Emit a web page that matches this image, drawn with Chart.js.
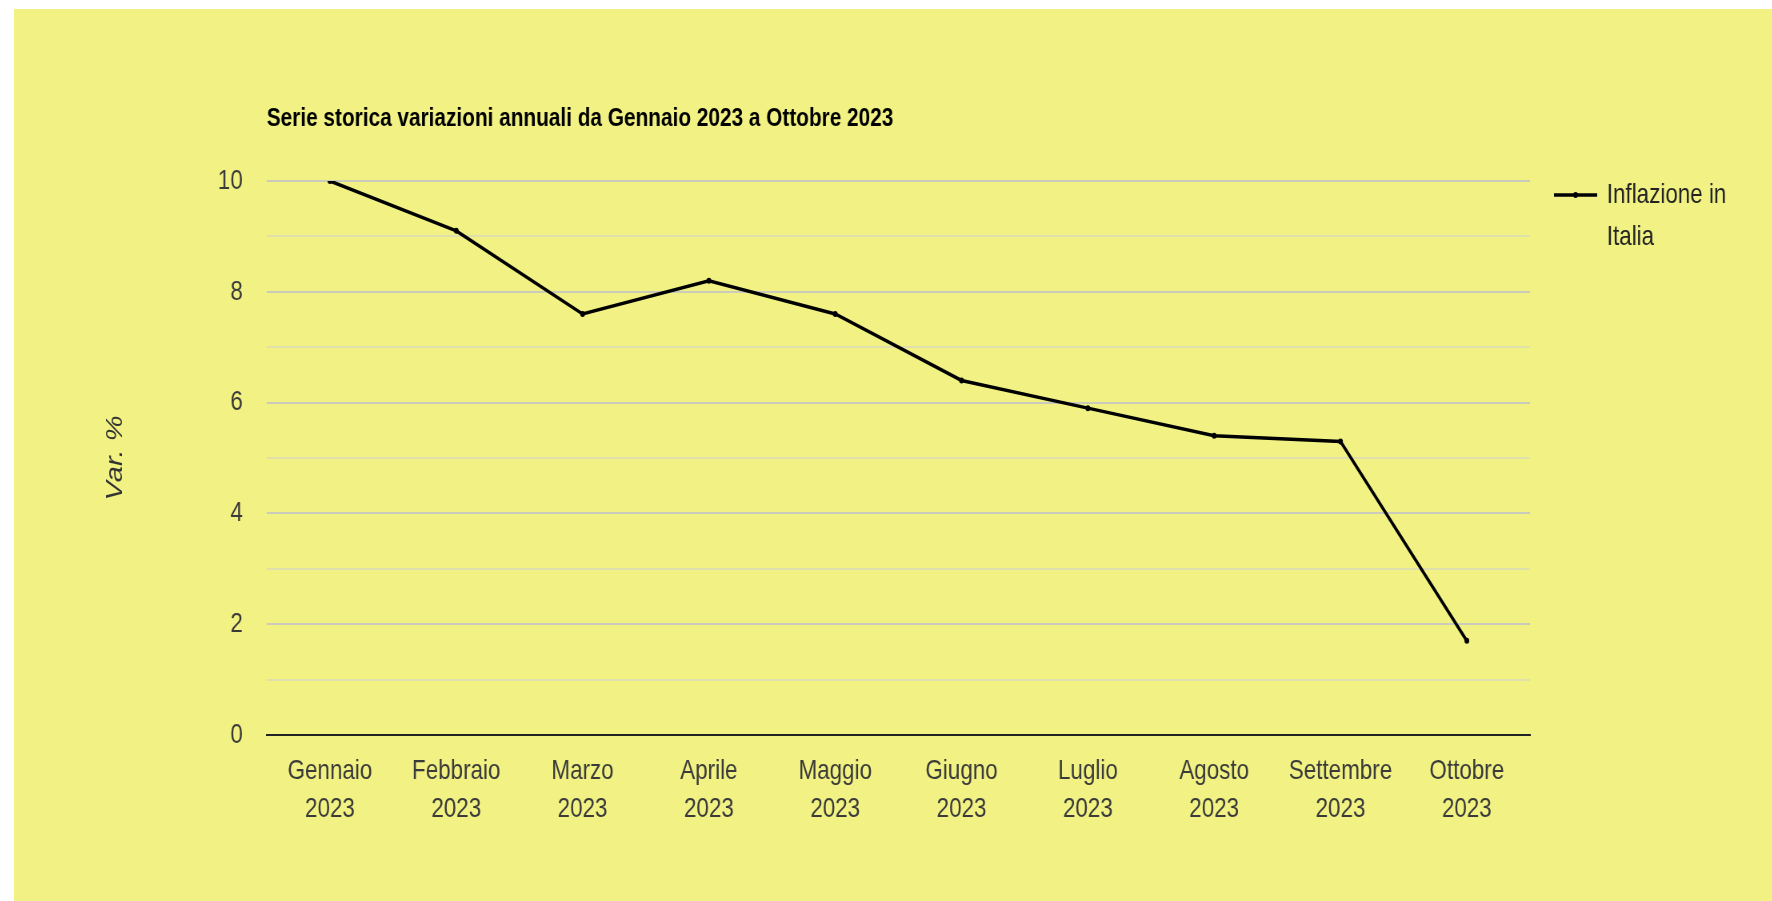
<!DOCTYPE html>
<html lang="it">
<head>
<meta charset="utf-8">
<title>Inflazione in Italia 2023</title>
<script src="https://cdn.jsdelivr.net/npm/chart.js@4.4.1/dist/chart.umd.min.js"></script>
<style>
    html, body { margin: 0; padding: 0; background: #ffffff; overflow: hidden; }
    .box {
        position: absolute;
        left: 14px;
        top: 9px;
        width: 1758px;
        height: 892px;
        background: #f1f283;
        overflow: hidden;
    }
    /* the original text is a condensed face, so squeeze the whole canvas */
    #chart {
        transform: scaleX(0.8);
        transform-origin: 0 0;
    }
</style>
</head>
<body>
<div class="box"><canvas id="chart" width="2198" height="892"></canvas></div>
<script>
const months = ['Gennaio', 'Febbraio', 'Marzo', 'Aprile', 'Maggio', 'Giugno', 'Luglio', 'Agosto', 'Settembre', 'Ottobre'];
const years = ['2023', '2023', '2023', '2023', '2023', '2023', '2023', '2023', '2023', '2023'];
const inflation = [10.0, 9.1, 7.6, 8.2, 7.6, 6.4, 5.9, 5.4, 5.3, 1.7];
const seriesLabel = 'Inflazione in Italia';
const chartTitle = 'Serie storica variazioni annuali da Gennaio 2023 a Ottobre 2023';
const yTitle = 'Var. %';

const FONT = "'Liberation Sans', Arial, sans-serif";

// title and legend sit against the plot area, so draw them by hand
const sidePlugin = {
    id: 'side',
    afterDraw(chart) {
        const { ctx, chartArea } = chart;
        const ds = chart.data.datasets[0];
        ctx.save();

        ctx.font = 'bold 26px ' + FONT;
        ctx.fillStyle = '#000000';
        ctx.textBaseline = 'middle';
        ctx.textAlign = 'left';
        ctx.fillText(chartTitle, chartArea.left, 110);

        const lx = chartArea.right + 30;
        const ly = 186;
        ctx.strokeStyle = ds.borderColor;
        ctx.lineWidth = 3.5;
        ctx.beginPath();
        ctx.moveTo(lx, ly);
        ctx.lineTo(lx + 54, ly);
        ctx.stroke();
        ctx.fillStyle = ds.borderColor;
        ctx.beginPath();
        ctx.arc(lx + 27, ly, 3, 0, Math.PI * 2);
        ctx.fill();

        ctx.font = '28px ' + FONT;
        ctx.fillStyle = '#222222';
        const tx = lx + 66;
        const maxW = chart.width - tx - 10;
        const lines = [];
        let cur = '';
        ds.label.split(' ').forEach((w) => {
            const test = cur ? cur + ' ' + w : w;
            if (cur && ctx.measureText(test).width > maxW) {
                lines.push(cur);
                cur = w;
            } else cur = test;
        });
        lines.push(cur);
        lines.forEach((t, i) => ctx.fillText(t, tx, ly + i * 42));
        ctx.restore();
    },
};

const ctx = document.getElementById('chart').getContext('2d');
new Chart(ctx, {
    type: 'line',
    data: {
        labels: months.map((m, i) => [m, years[i]]),
        datasets: [{
            label: seriesLabel,
            data: inflation,
            borderColor: '#000000',
            backgroundColor: '#000000',
            borderWidth: 3.5,
            pointRadius: 3,
            pointBorderWidth: 0,
            tension: 0,
            fill: false,
        }],
    },
    options: {
        responsive: false,
        animation: false,
        devicePixelRatio: 1,
        layout: { padding: { left: 110, top: 172, right: 303, bottom: 46 } },
        plugins: {
            legend: { display: false },
            title: { display: false },
            tooltip: { enabled: false },
        },
        scales: {
            x: {
                offset: true,
                grid: { display: false, drawTicks: false },
                border: { display: true, color: '#222222', width: 2 },
                ticks: {
                    color: '#3a3a3a',
                    padding: 17,
                    maxRotation: 0,
                    autoSkip: false,
                    font: { family: FONT, size: 28, lineHeight: 1.36 },
                },
                afterFit(scale) { scale.height = 120; },
            },
            y: {
                min: 0,
                max: 10,
                grid: {
                    drawTicks: false,
                    lineWidth: 2,
                    color: (c) => (c.tick.value % 2 === 0 ? '#cbcbbd' : '#e0e0ae'),
                },
                border: { display: false },
                ticks: {
                    stepSize: 1,
                    padding: 30,
                    color: '#3a3a3a',
                    autoSkip: false,
                    font: { family: FONT, size: 28 },
                    callback: (v) => (v % 2 === 0 ? v : ''),
                },
                title: {
                    display: true,
                    text: yTitle,
                    color: '#333333',
                    padding: 0,
                    font: { family: FONT, size: 29, style: 'italic', lineHeight: 1.2 },
                },
                afterFit(scale) { scale.width = 206; },
            },
        },
    },
    plugins: [sidePlugin],
});
</script>
</body>
</html>
